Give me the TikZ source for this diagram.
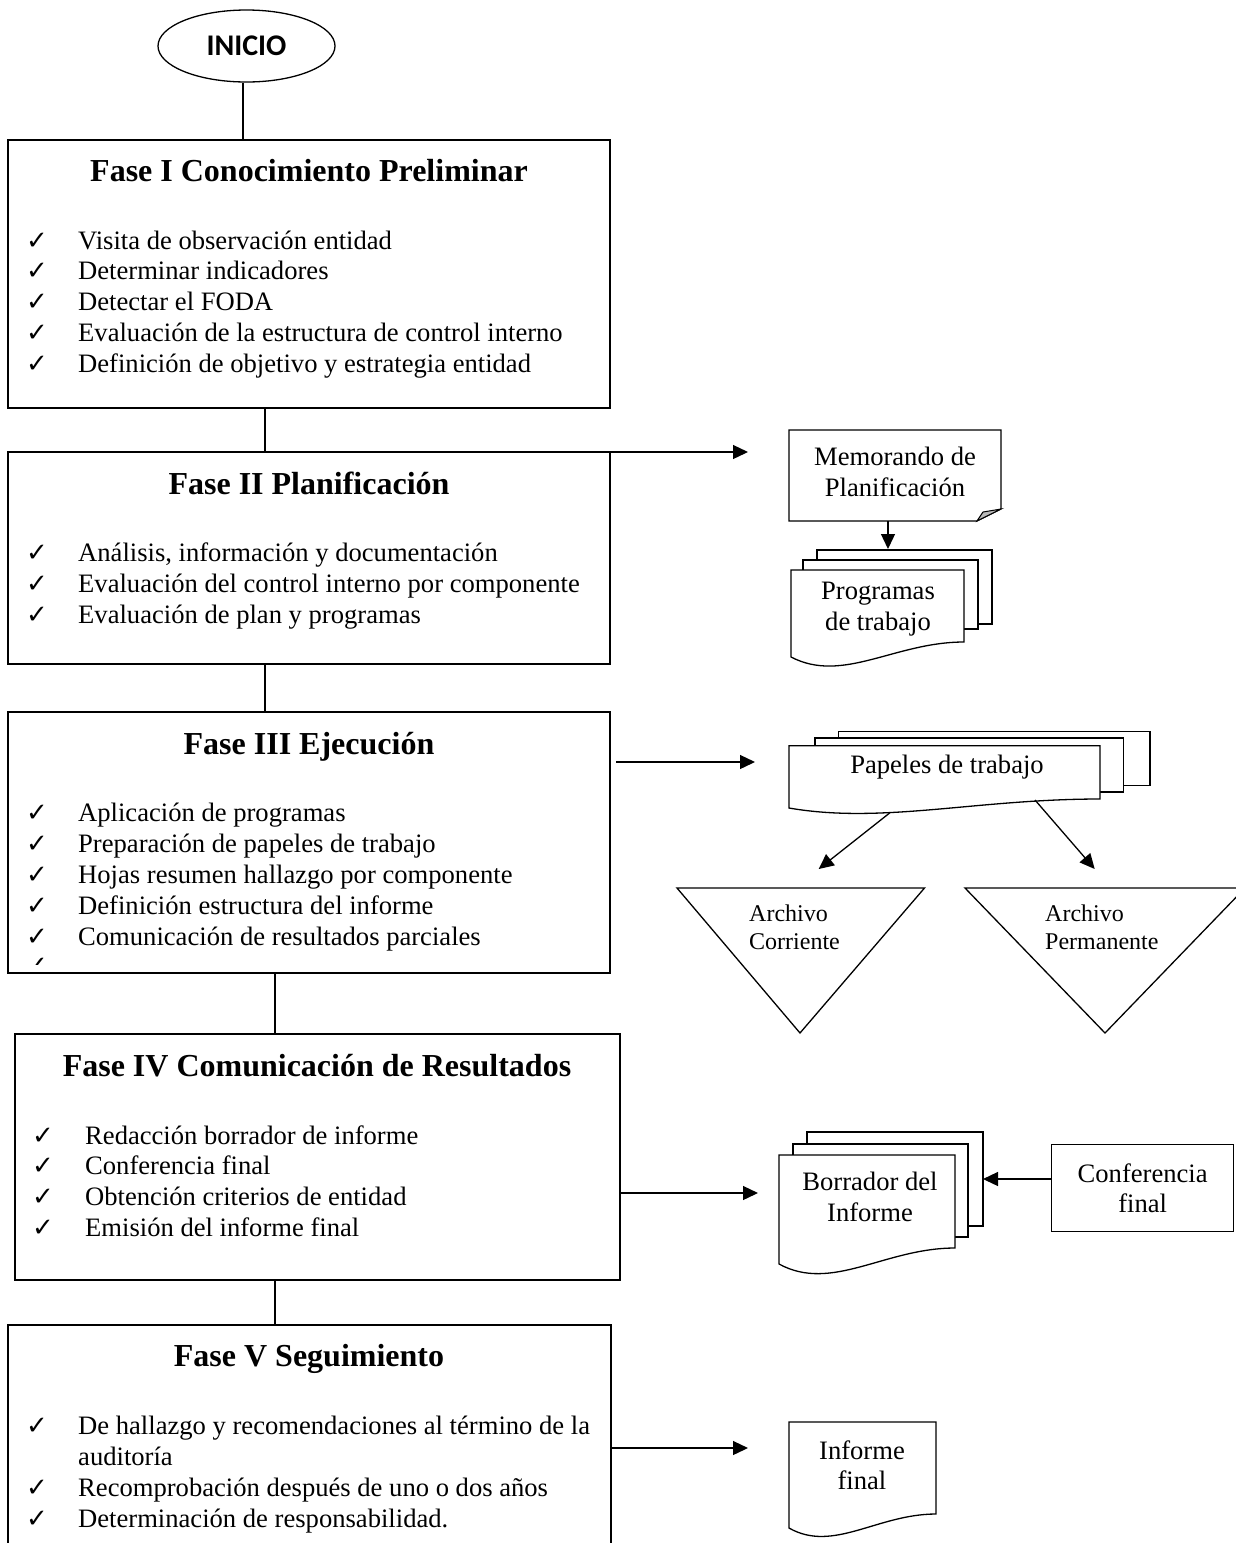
\documentclass[tikz,border=0pt]{standalone}
\usepackage{fontspec}
\setmainfont{Liberation Serif}
\newfontfamily\inifont{Carlito}
\newfontfamily\chkfont{DejaVu Sans}
\usetikzlibrary{arrows.meta,shapes.geometric}
% document shape: x0, ytop, x1, y bottom-left, y bottom-right
\newcommand{\drawdoc}[6][]{\draw[shp,#1] (#2,#3) -- (#4,#3) -- (#4,#6) .. controls ({#2+0.6*(#4-#2)},#6) and ({#2+0.3*(#4-#2)},{#5+1.8*(#5-#6)}) .. (#2,#5) -- cycle;}
\begin{document}
\begin{tikzpicture}[x=1pt,y=-1pt,
  box/.style={draw,line width=1.5pt,fill=white,anchor=north west,inner sep=0,outer sep=0},
  ttl/.style={font=\bfseries\fontsize{32}{36}\selectfont,anchor=base,inner sep=0},
  itm/.style={font=\fontsize{26.6}{30}\selectfont,anchor=base west,inner sep=0},
  chk/.style={font=\chkfont\fontsize{26}{26}\selectfont,anchor=base,inner sep=0},
  lbl/.style={font=\fontsize{26.6}{30.5}\selectfont,align=center,inner sep=0},
  sml/.style={font=\fontsize{24}{28}\selectfont,anchor=base west,inner sep=0},
  ln/.style={line width=1.3pt},
  arr/.style={line width=1.3pt,-{Triangle[length=15pt,width=14pt]}},
  shp/.style={line width=1.3pt,fill=white}]
\useasboundingbox (0,0) rectangle (1236,1543);
\clip (0,0) rectangle (1236,1543);

% ---------- start ----------
\node[draw,ellipse,line width=1.3pt,minimum width=177,minimum height=72,inner sep=0,
      font=\inifont\bfseries\fontsize{30}{32}\selectfont] (inicio) at (246.5,46) {INICIO};

% ---------- phase boxes ----------
\node[box,minimum width=602,minimum height=268] (f1) at (8,140) {};
\node[box,minimum width=602,minimum height=212] (f2) at (8,452) {};
\node[box,minimum width=602,minimum height=261] (f3) at (8,712) {};
\node[box,minimum width=605,minimum height=246] (f4) at (15,1034) {};
\node[box,minimum width=603,minimum height=260] (f5) at (8,1325) {};

% connector x positions
\coordinate (k0) at (243,0);
\coordinate (k1) at (265,0);
\coordinate (k3) at (275,0);
\draw[ln] (inicio.south -| k0) -- (k0 |- f1.north);
\draw[ln] (k1 |- f1.south) -- (k1 |- f2.north);
\draw[ln] (k1 |- f2.south) -- (k1 |- f3.north);
\draw[ln] (k3 |- f3.south) -- (k3 |- f4.north);
\draw[ln] (k3 |- f4.south) -- (k3 |- f5.north);

% ---------- Fase I ----------
\node[ttl] (t1) at (309,181) {Fase I Conocimiento Preliminar};
\node[chk] (c11) at (37,249) {✓}; \node[itm] (i11) at (78,249) {Visita de observación entidad};
\node[chk] (c12) at (37,279) {✓}; \node[itm] (i12) at (78,279) {Determinar indicadores};
\node[chk] (c13) at (37,310) {✓}; \node[itm] (i13) at (78,310) {Detectar el FODA};
\node[chk] (c14) at (37,341) {✓}; \node[itm] (i14) at (78,341) {Evaluación de la estructura de control interno};
\node[chk] (c15) at (37,372) {✓}; \node[itm] (i15) at (78,372) {Definición de objetivo y estrategia entidad};

% ---------- Fase II ----------
\node[ttl] (t2) at (309,494) {Fase II Planificación};
\node[chk] (c21) at (37,561) {✓}; \node[itm] (i21) at (78,561) {Análisis, información y documentación};
\node[chk] (c22) at (37,592) {✓}; \node[itm] (i22) at (78,592) {Evaluación del control interno por componente};
\node[chk] (c23) at (37,623) {✓}; \node[itm] (i23) at (78,623) {Evaluación de plan y programas};

% ---------- Fase III ----------
\node[ttl] (t3) at (309,754) {Fase III Ejecución};
\node[chk] (c31) at (37,821) {✓}; \node[itm] (i31) at (78,821) {Aplicación de programas};
\node[chk] (c32) at (37,852) {✓}; \node[itm] (i32) at (78,852) {Preparación de papeles de trabajo};
\node[chk] (c33) at (37,883) {✓}; \node[itm] (i33) at (78,883) {Hojas resumen hallazgo por componente};
\node[chk] (c34) at (37,914) {✓}; \node[itm] (i34) at (78,914) {Definición estructura del informe};
\node[chk] (c35) at (37,945) {✓}; \node[itm] (i35) at (78,945) {Comunicación de resultados parciales};
\begin{scope}
  \clip (10,940) rectangle (600,964);
  \node[chk] (c36) at (37,974) {✓};
\end{scope}

% ---------- Fase IV ----------
\node[ttl] (t4) at (317,1076) {Fase IV Comunicación de Resultados};
\node[chk] (c41) at (43,1144) {✓}; \node[itm] (i41) at (85,1144) {Redacción borrador de informe};
\node[chk] (c42) at (43,1174) {✓}; \node[itm] (i42) at (85,1174) {Conferencia final};
\node[chk] (c43) at (43,1205) {✓}; \node[itm] (i43) at (85,1205) {Obtención criterios de entidad};
\node[chk] (c44) at (43,1236) {✓}; \node[itm] (i44) at (85,1236) {Emisión del informe final};

% ---------- Fase V ----------
\node[ttl] (t5) at (309,1366) {Fase V Seguimiento};
\node[chk] (c51) at (37,1434) {✓}; \node[itm] (i51) at (78,1434) {De hallazgo y recomendaciones al término de la};
\node[itm] (i51b) at (78,1465) {auditoría};
\node[chk] (c52) at (37,1496) {✓}; \node[itm] (i52) at (78,1496) {Recomprobación después de uno o dos años};
\node[chk] (c53) at (37,1527) {✓}; \node[itm] (i53) at (78,1527) {Determinación de responsabilidad.};

% ---------- Memorando de planificacion ----------
\draw[shp] (789,430) -- (1001,430) -- (1001,509) -- (977,521) -- (789,521) -- cycle;
\draw[line width=1pt,fill=gray!55] (977,521) -- (983,512) -- (1001,509) -- cycle;
\node[lbl] (memo) at (895,472) {Memorando de\\Planificación};
\coordinate (memob) at (888,521);
\coordinate (progt) at (888,549);
\draw[arr] (memob) -- (progt);

% ---------- Programas de trabajo ----------
\draw[shp] (817,550) rectangle (992,624);
\draw[shp] (803,560) rectangle (978,629);
\drawdoc{791}{570}{964}{657}{642}
\node[lbl] (prog) at (878,609) {Programas\\de trabajo};

% ---------- Papeles de trabajo ----------
\draw[shp] (838.7,731.7) rectangle (1150,785.7);
\draw[shp] (815,738) rectangle (1123.5,792);
\drawdoc{789}{745.7}{1100}{808}{799}
\node[lbl] (pap) at (947,767) {Papeles de trabajo};

% ---------- Archivo triangles ----------
\draw[line width=1.3pt] (677,888) -- (924.5,888) -- (800,1033) -- cycle;
\draw[line width=1.3pt] (965,888) -- (1245,888) -- (1105,1033) -- cycle;
\node[sml] (ac1) at (749,921) {Archivo};
\node[sml] (ac2) at (749,949) {Corriente};
\node[sml] (ap1) at (1045,921) {Archivo};
\node[sml] (ap2) at (1045,949) {Permanente};
\coordinate (papl) at (890,812.7);
\coordinate (papr) at (1035,800);
\coordinate (trl) at (818.7,869);
\coordinate (trr) at (1094.7,869);
\draw[arr] (papl) -- (trl);
\draw[arr] (papr) -- (trr);

% ---------- Borrador del informe ----------
\draw[shp] (807,1132) rectangle (983,1226);
\draw[shp] (793,1144) rectangle (968,1237);
\drawdoc{779}{1155}{955}{1264}{1248}
\node[lbl] (bor) at (870,1197) {Borrador del\\Informe};
\coordinate (bore) at (983,1179);

\node[draw,line width=1.3pt,minimum width=182,minimum height=87,inner sep=0,anchor=north west,
      font=\fontsize{26.6}{30.5}\selectfont,align=center] (conf) at (1051,1144) {Conferencia\\final};
\draw[arr] (conf.west |- bore) -- (bore);

% ---------- Informe final ----------
\drawdoc{789}{1422}{936}{1528}{1514}
\node[lbl] (inf) at (862,1465) {Informe\\final};

% ---------- horizontal arrows ----------
\coordinate (a2) at (748,452);
\coordinate (a3s) at (616,762);
\coordinate (a3) at (755,762);
\coordinate (a4) at (758,1193);
\coordinate (a5) at (748,1448);
\draw[arr] (f2.north east) -- (a2);
\draw[arr] (a3s) -- (a3);
\draw[arr] (f4.east |- a4) -- (a4);
\draw[arr] (f5.east |- a5) -- (a5);
\end{tikzpicture}
\end{document}
